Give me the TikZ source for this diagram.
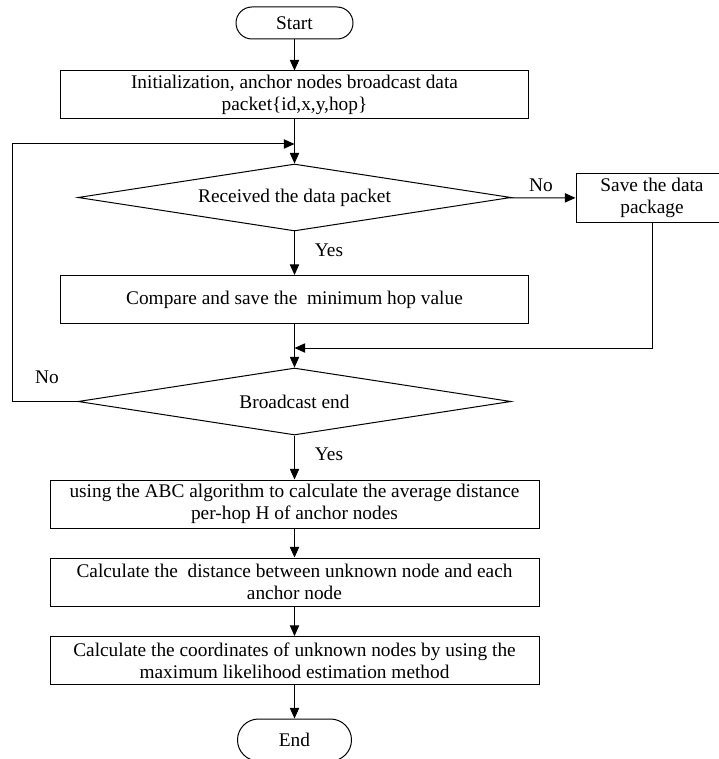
\documentclass[tikz,border=0pt]{standalone}
\usepackage{fontspec}
\setmainfont{Liberation Serif}
\usetikzlibrary{shapes.geometric,arrows.meta}

\tikzset{
  box/.style={draw,inner sep=0pt,align=center},
  term/.style={box,rounded corners=12pt,minimum width=87.75pt,minimum height=24pt},
  proc/.style={box,minimum width=351pt,minimum height=36pt},
  wide/.style={proc,minimum width=366.75pt},
  dec/.style={box,diamond,aspect=6,minimum width=324.75pt,minimum height=50.25pt},
}

\begin{document}
\begin{tikzpicture}[x=0.75pt,y=0.75pt,yscale=-1,line width=0.75pt,
  font=\fontsize{14.5}{16.5}\selectfont,>={Triangle[length=8pt,width=7pt]}]
\useasboundingbox (0,0) rectangle (718,759);
\node[term] (1) at (294.5,23) {Start};
\node[proc] (2) at (294.5,95) {Initialization, anchor nodes broadcast data\\packet\{id,x,y,hop\}};
\node[dec] (3) at (294.5,197.5) {Received the data packet};
\node[proc,minimum width=114pt] (4) at (652,198) {Save the data\\package};
\node[proc] (5) at (294.5,299.5) {Compare and save the\ \ minimum hop value};
\node[dec] (6) at (294.5,401.5) {Broadcast end};
\node[wide] (7) at (294.5,504) {using the ABC algorithm to calculate the average distance\\per-hop H of anchor nodes};
\node[wide] (8) at (294.5,582) {Calculate the\ \ distance between unknown node and each\\anchor node};
\node[wide] (9) at (294.5,660.5) {Calculate the coordinates of unknown nodes by using the\\maximum likelihood estimation method};
\node[term,minimum width=85.5pt,minimum height=31.5pt,rounded corners=15.75pt] (10) at (294.5,740) {End};
\coordinate (11) at (294.5,144);
\coordinate (12) at (294.5,348);
\coordinate (13) at (12.5,401.5);
\node (14) at (541,185) {No};
\node (15) at (329,250) {Yes};
\node (16) at (47,377) {No};
\node (17) at (329,454) {Yes};
\path[->] (1) edge (2);
\path[-] (2) edge (11);
\path[->] (11) edge (3);
\path[->] (3) edge (4);
\path[->] (3) edge (5);
\path[-] (5) edge (12);
\path[->] (12) edge (6);
\path[->] (6) edge (7);
\path[->] (7) edge (8);
\path[->] (8) edge (9);
\path[->] (9) edge (10);
\draw[->] (4) |- (12);
\draw[->] (6.west) -- (13) |- (11);
\end{tikzpicture}
\end{document}
